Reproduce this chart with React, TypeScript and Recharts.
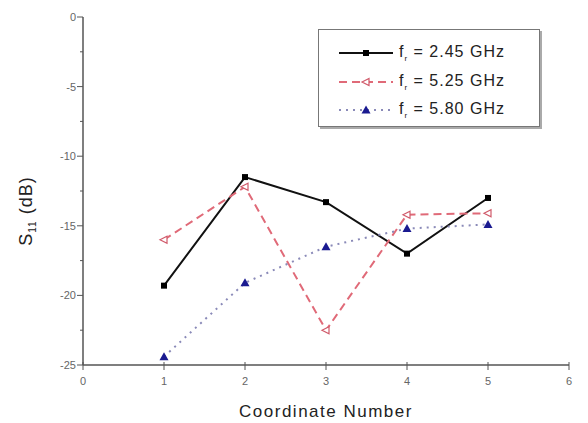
import { LineChart, Line, XAxis, YAxis, Legend, Label } from "recharts";

const coords = [1, 2, 3, 4, 5];
const f245 = [-19.3, -11.5, -13.3, -17.0, -13.0];
const f525 = [-16.0, -12.2, -22.5, -14.2, -14.1];
const f580 = [-24.4, -19.1, -16.5, -15.2, -14.9];
const xTicks = [0, 1, 2, 3, 4, 5, 6];
const yTicks = [0, -2.5, -5, -7.5, -10, -12.5, -15, -17.5, -20, -22.5, -25];

const data = coords.map((x, i) => ({ x, a: f245[i], b: f525[i], c: f580[i] }));

const series = [
  { key: "a", name: "2.45 GHz", color: "#111", dash: undefined, width: 2, marker: "square" },
  { key: "b", name: "5.25 GHz", color: "#e06a78", dash: "8 5", width: 2, marker: "tri-left" },
  { key: "c", name: "5.80 GHz", color: "#8a8ab8", dash: "2 5", width: 2, marker: "tri-up" },
];

function Marker({ cx, cy, kind }: { cx: number; cy: number; kind: string }) {
  if (kind === "square") return <rect x={cx - 3} y={cy - 3} width={6} height={6} fill="#000" />;
  if (kind === "tri-left")
    return (
      <polygon
        points={`${cx - 4},${cy} ${cx + 3},${cy - 3.5} ${cx + 3},${cy + 3.5}`}
        fill="#fff"
        stroke="#d05a6a"
        strokeWidth={1.2}
      />
    );
  return <polygon points={`${cx},${cy - 4.5} ${cx + 4.5},${cy + 3.5} ${cx - 4.5},${cy + 3.5}`} fill="#1a1a90" />;
}

const dotFor = (kind: string) => (p: any) => <Marker key={p.index} cx={p.cx} cy={p.cy} kind={kind} />;

function YTick(props: any) {
  const { x, y, payload } = props;
  const major = payload.value % 5 === 0;
  return (
    <g>
      <line x1={x - (major ? 6 : 3)} x2={x} y1={y} y2={y} stroke="#555" />
      {major && (
        <text x={x - 7} y={y + 4} textAnchor="end" fontSize={11} fill="#666" fontFamily="Liberation Sans">
          {payload.value}
        </text>
      )}
    </g>
  );
}

function XTick(props: any) {
  const { x, y, payload } = props;
  return (
    <g>
      <line x1={x} x2={x} y1={y - 3} y2={y + 5} stroke="#555" />
      <text x={x} y={y + 20} textAnchor="middle" fontSize={11} fill="#666" fontFamily="Liberation Sans">
        {payload.value}
      </text>
    </g>
  );
}

function LegendBox() {
  return (
    <div
      style={{
        width: 222,
        height: 98,
        border: "1px solid #777",
        boxShadow: "2px 2px 0 #aaa",
        background: "#fff",
        fontFamily: "Liberation Sans",
        fontSize: 16,
        letterSpacing: 1,
        color: "#222",
        paddingTop: 9,
        boxSizing: "border-box",
      }}
    >
      {series.map((s) => (
        <div key={s.key} style={{ display: "flex", alignItems: "center", height: 28.5, paddingLeft: 18 }}>
          <svg width={58} height={16}>
            <line x1={2} x2={56} y1={8} y2={8} stroke={s.color} strokeWidth={2} strokeDasharray={s.dash} />
            <Marker cx={29} cy={8} kind={s.marker} />
          </svg>
          <span style={{ marginLeft: 4 }}>
            f<sub style={{ fontSize: 8 }}>r</sub> = {s.name}
          </span>
        </div>
      ))}
    </div>
  );
}

export default function App() {
  return (
    <div style={{ position: "absolute", left: 0, top: 0, background: "#fff" }}>
      <LineChart width={588} height={423} data={data} margin={{ top: 17, right: 19, bottom: 0, left: 0 }}>
        <XAxis
          dataKey="x"
          type="number"
          domain={[0, 6]}
          ticks={xTicks}
          height={58}
          tickSize={0}
          tickMargin={0}
          tick={<XTick />}
          stroke="#555"
          strokeWidth={1.5}
        >
          <Label
            value="Coordinate Number"
            position="insideBottom"
            offset={6}
            style={{ fontSize: 17, letterSpacing: 1.5, fill: "#222", fontFamily: "Liberation Sans" }}
          />
        </XAxis>
        <YAxis
          type="number"
          domain={[-25, 0]}
          ticks={yTicks}
          width={83}
          tickSize={0}
          tickMargin={0}
          tick={<YTick />}
          stroke="#555"
          strokeWidth={1.5}
          label={(p: any) => {
            const vb = p.viewBox;
            const cx = 32;
            const cy = vb.y + vb.height / 2 + 20;
            return (
              <text
                transform={`rotate(-90 ${cx} ${cy})`}
                x={cx}
                y={cy}
                textAnchor="middle"
                fontFamily="Liberation Sans"
                fontSize={18}
                letterSpacing={1}
                fill="#222"
              >
                S
                <tspan fontSize={10} dy={4}>11</tspan>
                <tspan dy={-4}> (dB)</tspan>
              </text>
            );
          }}
        />
        <Legend
          layout="vertical"
          align="center"
          verticalAlign="middle"
          content={() => <LegendBox />}
          wrapperStyle={{ position: "absolute", left: 318, top: 29, width: 224 }}
        />
        {series.map((s) => (
          <Line
            key={s.key}
            type="linear"
            dataKey={s.key}
            stroke={s.color}
            strokeWidth={s.width}
            strokeDasharray={s.dash}
            dot={dotFor(s.marker)}
            activeDot={false}
            isAnimationActive={false}
          />
        ))}
      </LineChart>
    </div>
  );
}
